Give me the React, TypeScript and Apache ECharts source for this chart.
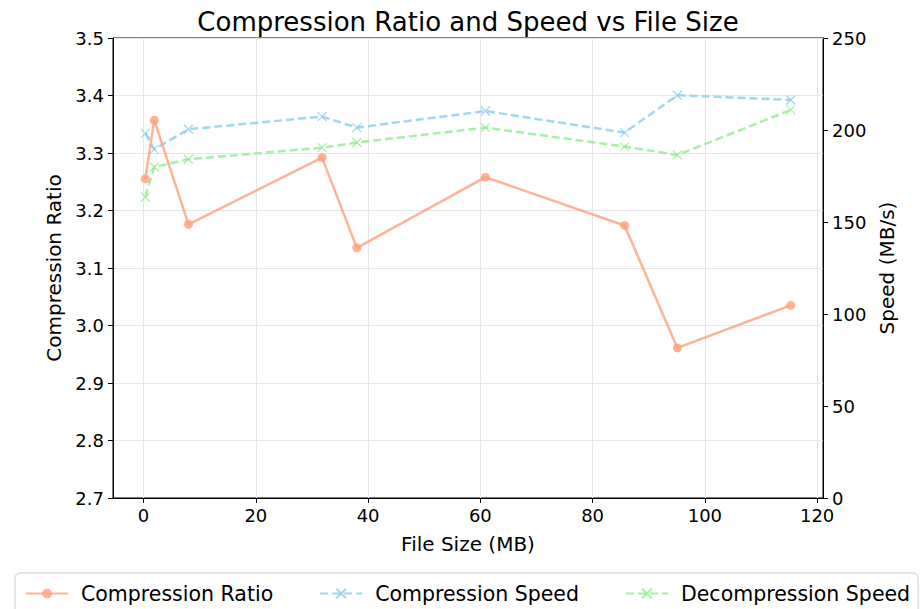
import React, { useEffect, useRef } from "react";
import * as echarts from "echarts";

const fileSizes = [0.3, 1.9, 8, 31.8, 38, 60.9, 85.7, 95.1, 115.3];
const compressionRatio = [3.255, 3.357, 3.176, 3.292, 3.135, 3.258, 3.174, 2.961, 3.035];
const compressionSpeed = [198.2, 189.5, 200.4, 207.3, 201.3, 210.3, 198.6, 218.9, 216.3];
const decompressionSpeed = [163.6, 179.9, 184.1, 190.4, 193.2, 201.3, 191.0, 186.4, 210.9];
const xTicks = [0, 20, 40, 60, 80, 100, 120];

const FONT = "DejaVu Sans";
const ORANGE = "rgba(255,160,122,0.8)";
const BLUE = "rgba(135,206,235,0.8)";
const GREEN = "rgba(144,238,144,0.8)";
const X_SYMBOL = "path://M0,0L10,10M10,0L0,10";

export default function App() {
  const ref = useRef<HTMLDivElement>(null);
  useEffect(() => {
    if (!ref.current) return;
    const chart = echarts.init(ref.current, null, { renderer: "svg" });
    const pair = (ys: number[]) => fileSizes.map((x, i) => [x, ys[i]]);
    chart.setOption({
      animation: false,
      textStyle: { fontFamily: FONT },
      title: {
        text: "Compression Ratio and Speed vs File Size",
        left: 463,
        top: 4,
        textAlign: "center",
        textStyle: { fontFamily: FONT, fontSize: 26, fontWeight: "normal", color: "#000" },
      },
      grid: {
        left: 113,
        right: 101,
        top: 38,
        height: 460,
        show: true,
        borderColor: "#000",
        borderWidth: 1,
        backgroundColor: "transparent",
      },
      legend: {
        left: 15,
        top: 573,
        width: 893,
        itemWidth: 42,
        itemHeight: 12,
        itemGap: 46,
        padding: [10, 8, 10, 10],
        borderColor: "#ccc",
        borderWidth: 1,
        borderRadius: 5,
        textStyle: { fontFamily: FONT, fontSize: 20.5, color: "#000", padding: [0, 0, 0, 8] },
        data: ["Compression Ratio", "Compression Speed", "Decompression Speed"],
      },
      xAxis: {
        type: "value",
        min: -5.45,
        max: 121.05,
        name: "File Size (MB)",
        nameLocation: "middle",
        nameGap: 36,
        nameTextStyle: { fontFamily: FONT, fontSize: 20, color: "#000" },
        axisLine: { show: true, onZero: false, lineStyle: { color: "#000", width: 1 } },
        axisTick: { show: true, length: 5, customValues: xTicks, lineStyle: { color: "#000" } },
        axisLabel: { customValues: xTicks, fontFamily: FONT, fontSize: 18, color: "#000", margin: 8 },
        splitLine: { show: true, lineStyle: { color: "#e6e6e6", width: 1 } },
      },
      yAxis: [
        {
          type: "value",
          min: 2.7,
          max: 3.5,
          interval: 0.1,
          name: "Compression Ratio",
          nameLocation: "middle",
          nameGap: 48,
          nameTextStyle: { fontFamily: FONT, fontSize: 20, color: "#000" },
          axisLine: { show: true, onZero: false, lineStyle: { color: "#000", width: 1 } },
          axisTick: { show: true, length: 5, lineStyle: { color: "#000" } },
          axisLabel: {
            fontFamily: FONT,
            fontSize: 18,
            color: "#000",
            margin: 9,
            formatter: (v: number) => v.toFixed(1),
          },
          splitLine: { show: true, lineStyle: { color: "#e6e6e6", width: 1 } },
        },
        {
          type: "value",
          min: 0,
          max: 250,
          interval: 50,
          name: "Speed (MB/s)",
          nameLocation: "middle",
          nameGap: 50,
          nameTextStyle: { fontFamily: FONT, fontSize: 20, color: "#000" },
          axisLine: { show: true, onZero: false, lineStyle: { color: "#000", width: 1 } },
          axisTick: { show: true, length: 5, lineStyle: { color: "#000" } },
          axisLabel: { fontFamily: FONT, fontSize: 18, color: "#000", margin: 9 },
          splitLine: { show: false },
        },
      ],
      series: [
        {
          name: "Compression Ratio",
          type: "line",
          yAxisIndex: 0,
          data: pair(compressionRatio),
          symbol: "circle",
          symbolSize: 9,
          lineStyle: { color: ORANGE, width: 2.5 },
          itemStyle: { color: ORANGE },
          z: 3,
        },
        {
          name: "Compression Speed",
          type: "line",
          yAxisIndex: 1,
          data: pair(compressionSpeed),
          symbol: X_SYMBOL,
          symbolSize: 9,
          lineStyle: { color: BLUE, width: 2.5, type: [8, 4] },
          itemStyle: { color: "transparent", borderColor: BLUE, borderWidth: 1.2 },
          z: 2,
        },
        {
          name: "Decompression Speed",
          type: "line",
          yAxisIndex: 1,
          data: pair(decompressionSpeed),
          symbol: X_SYMBOL,
          symbolSize: 9,
          lineStyle: { color: GREEN, width: 2.5, type: [8, 4] },
          itemStyle: { color: "transparent", borderColor: GREEN, borderWidth: 1.2 },
          z: 2,
        },
      ],
    });
    return () => chart.dispose();
  }, []);
  return (
    <div
      ref={ref}
      style={{ position: "absolute", left: 0, top: 0, width: 924, height: 609, background: "#fff" }}
    />
  );
}
